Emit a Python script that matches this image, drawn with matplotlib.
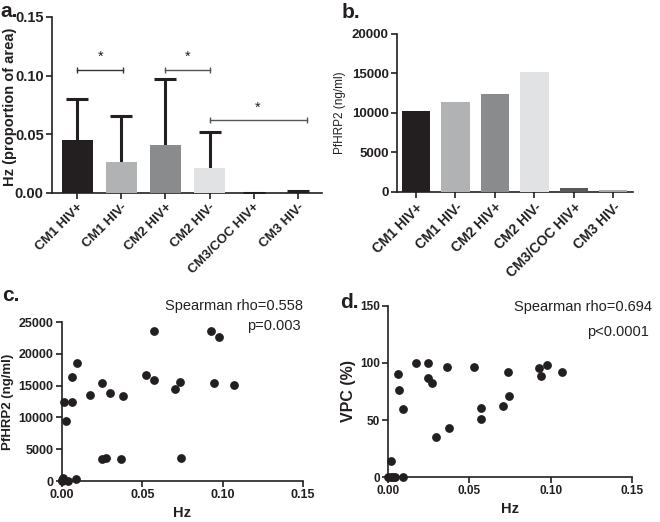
import numpy as np
import matplotlib
matplotlib.use("Agg")
import matplotlib.pyplot as plt

plt.rcParams['font.family'] = ['Liberation Sans', 'DejaVu Sans']

groups = ["CM1 HIV+", "CM1 HIV-", "CM2 HIV+", "CM2 HIV-", "CM3/COC HIV+", "CM3 HIV-"]
bar_colors = ["#231f20", "#b1b2b4", "#8a8b8d", "#e1e2e3", "#58595b", "#a7a9ac"]

# panel a: Hz mean and upper error
hz_mean = [0.0453, 0.0265, 0.0413, 0.0214, 0.0, 0.0004]
hz_err = [0.0348, 0.0388, 0.0557, 0.0308, 0.0, 0.0010]

# significance brackets (bar index from, to, height)
sig_from = [0, 2, 3]
sig_to = [1.05, 3, 5.2]
sig_y = [0.105, 0.105, 0.062]
sig_col = ["#333333", "#555555", "#555555"]

# panel b: PfHRP2 per group
hrp2_group = [10250, 11350, 12370, 15210, 550, 300]

# panel c: Hz vs PfHRP2
hz_c = [0.0008, 0.0, 0.0002, 0.004, 0.009, 0.0015, 0.0023, 0.0062, 0.0064, 0.0095,
        0.0174, 0.0247, 0.030, 0.0377, 0.0247, 0.0274, 0.0369, 0.0526, 0.0572, 0.0572,
        0.0705, 0.0736, 0.0742, 0.0926, 0.0976, 0.0943, 0.107]
hrp2_c = [400, 0, 150, 0, 260, 12450, 9400, 16370, 12450, 18500,
          13600, 15430, 13900, 13390, 3500, 3560, 3450, 16740, 23540, 15950,
          14430, 15640, 3600, 23540, 22590, 15380, 15110]

# panel d: Hz vs VPC
hz_d = [0.0, 0.0016, 0.003, 0.0045, 0.0018, 0.006, 0.0066, 0.0095, 0.009, 0.0175,
        0.0247, 0.0245, 0.0271, 0.0298, 0.0364, 0.0376, 0.0526, 0.0573, 0.0573, 0.0705,
        0.0736, 0.0742, 0.0929, 0.0943, 0.0976, 0.107]
vpc_d = [0, 0, 0, 0, 14.3, 90.7, 76.2, 59.5, 0, 99.8,
         99.8, 86.7, 82.3, 35.3, 96.9, 42.9, 96.9, 60.7, 51.1, 62.7,
         92.2, 71.2, 95.4, 88.4, 98.6, 91.9]

ink = "#231f20"


def style_axes(ax, xsize=8.5, ysize=8.5):
    for s in ["top", "right"]:
        ax.spines[s].set_visible(False)
    for s in ["left", "bottom"]:
        ax.spines[s].set_linewidth(1.2)
        ax.spines[s].set_color(ink)
    ax.tick_params(direction="out", length=4, width=1.2, color=ink, pad=2)
    ax.tick_params(axis="x", labelsize=xsize)
    ax.tick_params(axis="y", labelsize=ysize)
    for lab in ax.get_xticklabels() + ax.get_yticklabels():
        lab.set_fontweight("bold")
        lab.set_color(ink)


fig = plt.figure(figsize=(6.6, 5.22), dpi=100)

# ---- a ----
ax = fig.add_axes([0.0788, 0.6303, 0.4091, 0.3372])
x = np.arange(len(groups))
ax.bar(x, hz_mean, width=0.7, color=bar_colors, zorder=3)
eb = ax.errorbar(x, hz_mean, yerr=[np.zeros(len(x)), hz_err], fmt="none",
                 ecolor=ink, elinewidth=2.2, capsize=8, capthick=2.2, zorder=2)
for cl in eb[1]:
    if np.allclose(cl.get_ydata(), hz_mean):
        cl.set_visible(False)
for x0, x1, y, c in zip(sig_from, sig_to, sig_y, sig_col):
    ax.plot([x0, x1], [y, y], color=c, lw=1.0, marker="|", markersize=5,
            markeredgewidth=1.0)
    ax.text((x0 + x1) / 2, y + 0.005, "*", ha="center", va="bottom",
            fontsize=10.5, color=ink)
ax.set_xlim(-0.57, 5.55)
ax.set_ylim(0, 0.15)
ax.set_yticks([0, 0.05, 0.10, 0.15])
ax.set_yticklabels(["0.00", "0.05", "0.10", "0.15"])
ax.set_xticks(x)
ax.set_xticklabels(groups, rotation=45, ha="right", rotation_mode="anchor")
ax.set_ylabel("Hz (proportion of area)", fontsize=10.5, fontweight="bold",
              color=ink)
ax.yaxis.set_label_coords(-0.13, 0.49)
style_axes(ax, xsize=9.5, ysize=10.5)

# ---- b ----
ax = fig.add_axes([0.6015, 0.6322, 0.3576, 0.3027])
ax.bar(x, hrp2_group, width=0.72, color=bar_colors, zorder=3)
ax.set_xlim(-0.48, 5.5)
ax.set_ylim(0, 20000)
ax.set_yticks([0, 5000, 10000, 15000, 20000])
ax.set_xticks(x)
ax.set_xticklabels(groups, rotation=45, ha="right", rotation_mode="anchor")
ax.set_ylabel("PfHRP2 (ng/ml)", fontsize=8.5, color=ink, labelpad=4)
style_axes(ax, xsize=10, ysize=9.5)

# ---- c ----
ax = fig.add_axes([0.0939, 0.0785, 0.3652, 0.3046])
ax.scatter(hz_c, hrp2_c, s=28, color=ink, clip_on=False, zorder=3)
ax.set_xlim(0, 0.15)
ax.set_ylim(0, 25000)
ax.set_xticks([0, 0.05, 0.10, 0.15])
ax.set_xticklabels(["0.00", "0.05", "0.10", "0.15"])
ax.set_yticks([0, 5000, 10000, 15000, 20000, 25000])
ax.set_xlabel("Hz", fontsize=10.5, fontweight="bold", color=ink, labelpad=3)
ax.set_ylabel("PfHRP2 (ng/ml)", fontsize=9.5, fontweight="bold", color=ink,
              labelpad=3)
ax.text(1.0, 1.10, "Spearman rho=0.558", transform=ax.transAxes, ha="right",
        va="center", fontsize=10.5, color=ink)
ax.text(0.99, 0.975, "p=0.003", transform=ax.transAxes, ha="right",
        va="center", fontsize=10.5, color=ink)
style_axes(ax, xsize=9, ysize=9)

# ---- d ----
ax = fig.add_axes([0.5879, 0.0862, 0.3697, 0.3276])
ax.scatter(hz_d, vpc_d, s=28, color=ink, clip_on=False, zorder=3)
ax.set_xlim(0, 0.15)
ax.set_ylim(0, 150)
ax.set_xticks([0, 0.05, 0.10, 0.15])
ax.set_xticklabels(["0.00", "0.05", "0.10", "0.15"])
ax.set_yticks([0, 50, 100, 150])
ax.set_xlabel("Hz", fontsize=10.5, fontweight="bold", color=ink, labelpad=3)
ax.set_ylabel("VPC (%)", fontsize=11.5, fontweight="bold", color=ink,
              labelpad=3)
ax.text(1.082, 0.994, "Spearman rho=0.694", transform=ax.transAxes, ha="right",
        va="center", fontsize=10.5, color=ink)
ax.text(1.07, 0.848, "p<0.0001", transform=ax.transAxes, ha="right",
        va="center", fontsize=10.5, color=ink)
style_axes(ax)

# panel letters
for lx, ly, t in [(0.0, 0.978, "a."), (0.518, 0.977, "b."),
                  (0.003, 0.433, "c."), (0.516, 0.421, "d.")]:
    fig.text(lx, ly, t, fontsize=15, fontweight="bold", color=ink,
             ha="left", va="center")

fig.savefig("out.png", dpi=100)
